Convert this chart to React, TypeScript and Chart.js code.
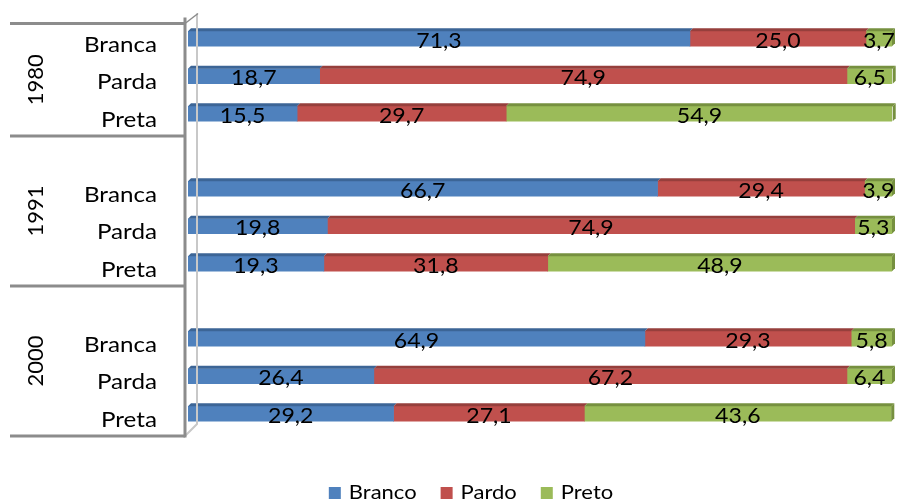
import React, { useEffect, useRef } from 'react';
import { Chart, registerables } from 'chart.js';
Chart.register(...registerables);

const years = ['1980', '1991', '2000'];
const groups = ['Branca', 'Parda', 'Preta'];
const seriesNames = ['Branco', 'Pardo', 'Preto'];
const branco = [71.3, 18.7, 15.5, 66.7, 19.8, 19.3, 64.9, 26.4, 29.2];
const pardo = [25.0, 74.9, 29.7, 29.4, 74.9, 31.8, 29.3, 67.2, 27.1];
const preto = [3.7, 6.5, 54.9, 3.9, 5.3, 48.9, 5.8, 6.4, 43.6];
const colors = ['#4F81BD', '#C0504D', '#9BBB59'];
const topColors = ['#3C6596', '#963F3C', '#76903F'];

const FONT = 'Lato, "Open Sans", sans-serif';
const SX = 1.1; // horizontal stretch of text

// build category list with a blank slot before each later year group
const labels: string[] = [];
const yearOfIndex: number[] = [];
years.forEach((_, yi) => {
  if (yi > 0) { labels.push(''); yearOfIndex.push(yi); }
  groups.forEach((g) => { labels.push(g); yearOfIndex.push(yi); });
});
function expand(vals: number[]): (number | null)[] {
  const out: (number | null)[] = [];
  let k = 0;
  labels.forEach((l) => {
    if (l === '') out.push(null);
    else out.push(vals[k++]);
  });
  return out;
}
const seriesValues = [branco, pardo, preto];

const D = 3; // 3D depth

function text(ctx: CanvasRenderingContext2D, s: string, x: number, y: number, align: CanvasTextAlign, rot = 0) {
  ctx.save();
  ctx.translate(x, y);
  if (rot) ctx.rotate(rot);
  ctx.scale(SX, 1);
  ctx.textAlign = align;
  ctx.textBaseline = 'alphabetic';
  ctx.fillText(s, 0, 0);
  ctx.restore();
}

const customPlugin = {
  id: 'custom3d',
  afterDatasetsDraw(chart: any) {
    const ctx = chart.ctx;
    const n = chart.data.datasets.length;
    ctx.save();
    for (let di = 0; di < n; di++) {
      const meta = chart.getDatasetMeta(di);
      meta.data.forEach((el: any, i: number) => {
        const v = chart.data.datasets[di].data[i];
        if (v == null) return;
        const x0 = Math.min(el.base, el.x);
        const x1 = Math.max(el.base, el.x);
        const yTop = el.y - el.height / 2;
        const yBot = el.y + el.height / 2;
        ctx.fillStyle = topColors[di];
        ctx.beginPath();
        ctx.moveTo(x0, yTop);
        ctx.lineTo(x0 + D, yTop - D);
        ctx.lineTo(x1 + D, yTop - D);
        ctx.lineTo(x1, yTop);
        ctx.closePath();
        ctx.fill();
        if (di === n - 1) {
          ctx.beginPath();
          ctx.moveTo(x1, yTop);
          ctx.lineTo(x1 + D, yTop - D);
          ctx.lineTo(x1 + D, yBot - D);
          ctx.lineTo(x1, yBot);
          ctx.closePath();
          ctx.fill();
        }
      });
    }
    ctx.fillStyle = '#000';
    ctx.font = `21px ${FONT}`;
    for (let di = 0; di < n; di++) {
      const meta = chart.getDatasetMeta(di);
      meta.data.forEach((el: any, i: number) => {
        const v = chart.data.datasets[di].data[i];
        if (v == null) return;
        const cx = (el.base + el.x) / 2;
        text(ctx, v.toFixed(1).replace('.', ','), cx, el.y + 9, 'center');
      });
    }
    ctx.restore();
  },
  afterDraw(chart: any) {
    const ctx = chart.ctx;
    const yScale = chart.scales.y;
    const step = yScale.getPixelForValue(1) - yScale.getPixelForValue(0);
    const boundary = (i: number) => yScale.getPixelForValue(i) - step / 2 + 3.5;
    ctx.save();
    const fx = 185;
    const bx = 197;
    const topY = boundary(0);
    const botY = boundary(labels.length);
    ctx.strokeStyle = '#C8C8C8';
    ctx.lineWidth = 2;
    ctx.beginPath();
    ctx.moveTo(bx, topY - 10);
    ctx.lineTo(bx, botY - 12);
    ctx.lineTo(fx, botY);
    ctx.stroke();
    ctx.strokeStyle = '#8C8C8C';
    ctx.lineWidth = 1.5;
    ctx.beginPath();
    ctx.moveTo(fx, topY);
    ctx.lineTo(bx + 1, topY - 10);
    ctx.stroke();
    ctx.lineWidth = 3;
    ctx.beginPath();
    ctx.moveTo(fx, topY - 6);
    ctx.lineTo(fx, botY + 1.5);
    ctx.stroke();
    const sepIdx = [0];
    labels.forEach((_, i) => {
      if (i === labels.length - 1 || yearOfIndex[i + 1] !== yearOfIndex[i]) sepIdx.push(i + 1);
    });
    ctx.beginPath();
    sepIdx.forEach((si) => {
      const y = boundary(si);
      ctx.moveTo(10, y);
      ctx.lineTo(fx, y);
    });
    ctx.stroke();
    ctx.fillStyle = '#000';
    ctx.font = `22px ${FONT}`;
    labels.forEach((l, i) => {
      if (!l) return;
      text(ctx, l, 157, yScale.getPixelForValue(i) + 13, 'right');
    });
    for (let k = 0; k < sepIdx.length - 1; k++) {
      const yMid = (boundary(sepIdx[k]) + boundary(sepIdx[k + 1])) / 2;
      ctx.save();
      ctx.translate(43, yMid);
      ctx.rotate(-Math.PI / 2);
      ctx.textAlign = 'center';
      ctx.fillText(years[k], 0, 0);
      ctx.restore();
    }
    ctx.font = `20px ${FONT}`;
    const box = 12;
    const gapBoxText = 8;
    const gapItems = 24;
    const widths = chart.data.datasets.map((ds: any) => box + gapBoxText + ctx.measureText(ds.label).width * SX);
    const total = widths.reduce((a: number, b: number) => a + b, 0) + gapItems * (widths.length - 1);
    let x = 471 - total / 2;
    chart.data.datasets.forEach((ds: any, i: number) => {
      ctx.fillStyle = ds.backgroundColor;
      ctx.fillRect(x, 487, box, box);
      ctx.fillStyle = '#000';
      text(ctx, ds.label, x + box + gapBoxText, 499, 'left');
      x += widths[i] + gapItems;
    });
    ctx.restore();
  },
};

export default function App() {
  const ref = useRef<HTMLCanvasElement>(null);
  useEffect(() => {
    if (!ref.current) return;
    const chart = new Chart(ref.current, {
      type: 'bar',
      data: {
        labels,
        datasets: seriesNames.map((name, i) => ({
          label: name,
          data: expand(seriesValues[i]),
          backgroundColor: colors[i],
          borderWidth: 0,
          barThickness: 15,
        })),
      },
      options: {
        indexAxis: 'y',
        animation: false,
        responsive: false,
        layout: { padding: { left: 188, right: 8, top: 20, bottom: 67.5 } },
        plugins: { legend: { display: false }, tooltip: { enabled: false } },
        scales: {
          x: { stacked: true, min: 0, max: 100, display: false },
          y: { stacked: true, display: false },
        },
      },
      plugins: [customPlugin],
    } as any);
    return () => chart.destroy();
  }, []);
  return (
    <div style={{ position: 'absolute', left: 0, top: 0, width: 900, height: 500, background: '#fff' }}>
      <canvas ref={ref} width={900} height={500} />
    </div>
  );
}
